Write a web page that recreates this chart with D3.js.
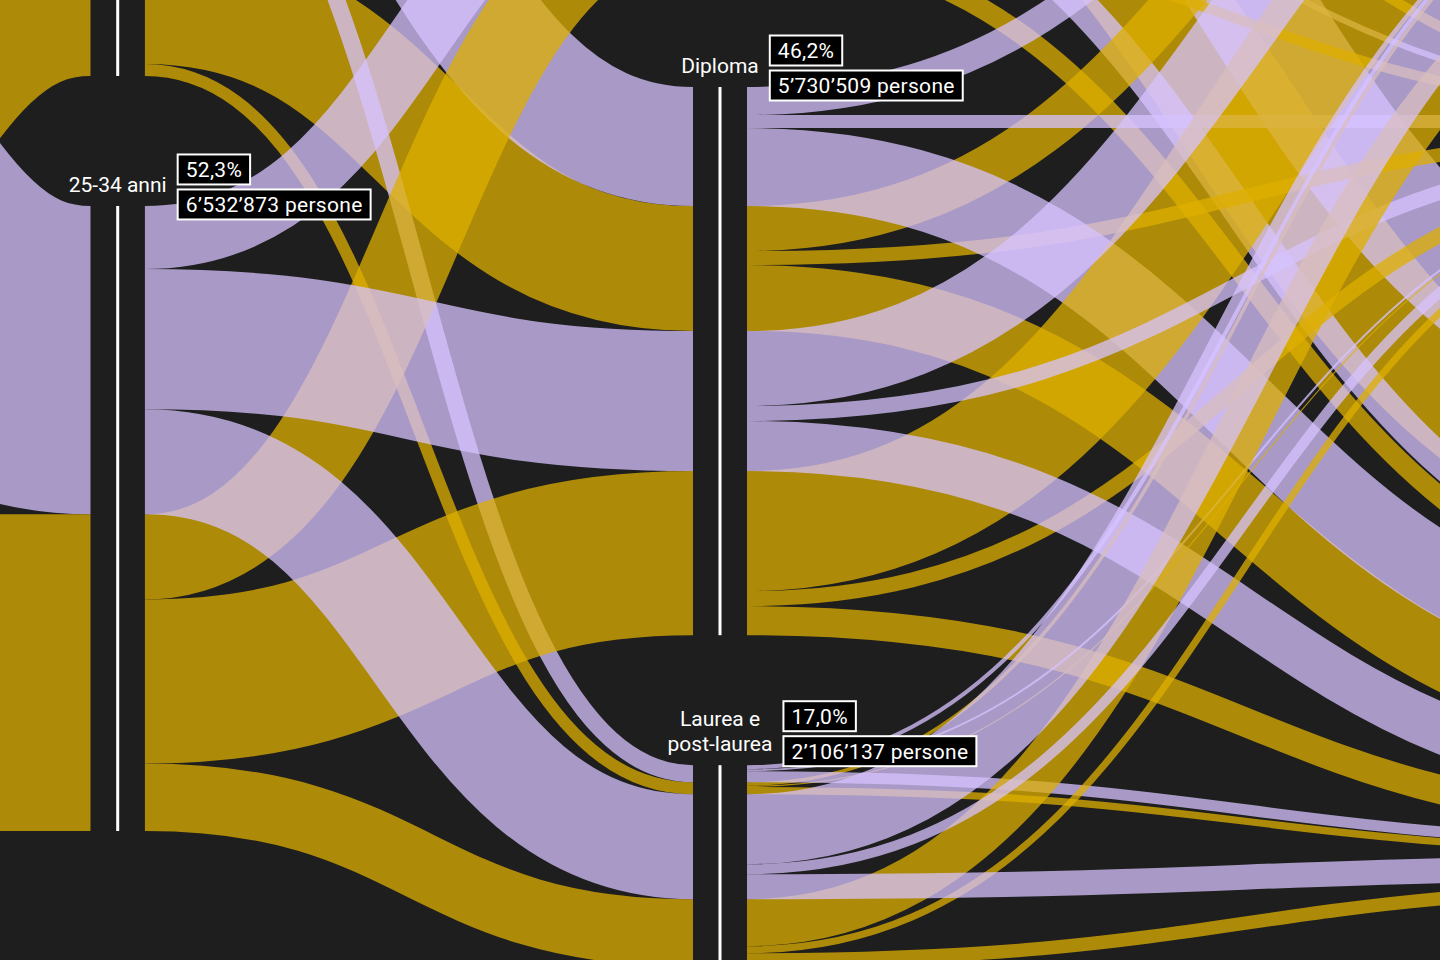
<!DOCTYPE html>
<html><head><meta charset="utf-8">
<script src="https://cdn.jsdelivr.net/npm/d3@7"></script>
<style>
html,body{margin:0;padding:0;background:#1e1e1e;overflow:hidden}
svg{display:block}
text{font-family:Roboto,"Noto Sans",sans-serif}
</style></head><body>
<svg id="chart" width="1440" height="960"></svg>
<script>
// ---------------- DATA ----------------
const generi = ["Donne", "Uomini"];
const eta = ["15-24 anni", "25-34 anni"];
const titoli = ["Licenza media", "Diploma", "Laurea e post-laurea"];
const condizioni = ["Occupati", "Disoccupati", "Inattivi"];
// gruppi: [genere, età] -> Donne 15-24, Uomini 15-24, Donne 25-34, Uomini 25-34
const gruppi = [[0, 0], [1, 0], [0, 1], [1, 1]];
// migliaia di persone; righe = gruppi, colonne = condizioni (Occupati, Disoccupati, Inattivi)
const flussiLicenza = [[105, 52, 1202], [260, 105, 1297], [260, 63, 337], [575, 105, 210]];
const flussiDiploma = [[293, 136, 816], [470, 146, 689], [784, 157, 524], [1254, 157, 304]];
const flussiLaurea  = [[42, 21, 115], [37, 12, 76], [732, 105, 261], [491, 73, 141]];
// etichette visibili
const etichetteNodi = ["25-34 anni", "Diploma", "Laurea e post-laurea"];
const etichetteRighe = [["25-34 anni"], ["Diploma"], ["Laurea e", "post-laurea"]];
const etichettePct = ["52,3%", "46,2%", "17,0%"];
const etichettePersone = [6532873, 5730509, 2106137];

// ---------------- LAYOUT ----------------
const W = 1440, H = 960;
const colX = [-484.3, 117.7, 720, 1767];      // column centres
const colTop = [-486, -486, -480.3, -553.4];   // first node top per column
const barW = 54, gap = 130;
const coloriGenere = ["#d7c3ff", "#deaf00"];
const y = d3.scaleLinear().domain([0, 1000]).range([0, 95.67]);

const svg = d3.select("#chart");
svg.append("rect").attr("width", W).attr("height", H).attr("fill", "#1e1e1e");

const columns = [generi, eta, titoli, condizioni];
const nodes = [];
columns.forEach((names, c) => names.forEach((name, i) => nodes.push({name, col: c, idx: i, vin: 0, vout: 0})));
const node = (c, i) => nodes.find(n => n.col === c && n.idx === i);
const flussi = [flussiLicenza, flussiDiploma, flussiLaurea];

const links = [];
gruppi.forEach(([s, a], g) => {
  links.push({source: node(0, s), target: node(1, a), value: d3.sum(flussi, f => d3.sum(f[g])), genere: s, k: 0});
});
gruppi.forEach(([s, a], g) => {
  flussi.forEach((f, t) => links.push({source: node(1, a), target: node(2, t), value: d3.sum(f[g]), genere: s, k: t}));
});
flussi.forEach((f, t) => gruppi.forEach(([s, a], g) => f[g].forEach((v, k) =>
  links.push({source: node(2, t), target: node(3, k), value: v, genere: s, eta: a, k}))));

links.forEach(l => { l.source.vout += l.value; l.target.vin += l.value; });
nodes.forEach(n => n.value = Math.max(n.vin, n.vout));
columns.forEach((names, c) => {
  let yy = colTop[c];
  nodes.filter(n => n.col === c).forEach(n => { n.y0 = yy; n.y1 = yy + y(n.value); yy = n.y1 + gap; });
});
nodes.forEach(n => { n.outY = n.y0; n.inY = n.y0; });
links.forEach(l => {
  l.w = y(l.value);
  l.sy = l.source.outY + l.w / 2; l.source.outY += l.w;
  l.ty = l.target.inY + l.w / 2; l.target.inY += l.w;
});

// drawing order: by column, source node, age group, men before women, target
const drawOrder = links.slice().sort((a, b) =>
  d3.ascending(a.source.col, b.source.col) ||
  d3.ascending(a.source.idx, b.source.idx) ||
  d3.ascending(a.eta || 0, b.eta || 0) ||
  d3.descending(a.genere, b.genere) ||
  d3.ascending(a.k, b.k));

const linkGen = d3.linkHorizontal()
  .source(l => [colX[l.source.col] + barW / 2, l.sy])
  .target(l => [colX[l.target.col] - barW / 2, l.ty]);

svg.append("g").selectAll("path").data(drawOrder).join("path")
  .attr("d", linkGen)
  .attr("fill", "none")
  .attr("stroke", l => coloriGenere[l.genere])
  .attr("stroke-opacity", 0.75)
  .attr("stroke-width", l => l.w);

const gn = svg.append("g");
gn.selectAll("rect.bar").data(nodes).join("rect").attr("class", "bar")
  .attr("x", n => colX[n.col] - barW / 2).attr("y", n => n.y0)
  .attr("width", barW).attr("height", n => n.y1 - n.y0).attr("fill", "#1e1e1e");
gn.selectAll("rect.line").data(nodes).join("rect").attr("class", "line")
  .attr("x", n => colX[n.col] - 1.5).attr("y", n => n.y0)
  .attr("width", 3).attr("height", n => n.y1 - n.y0).attr("fill", "#fff");

// ---------------- LABELS ----------------
const fmt = d3.formatLocale({decimal: ",", thousands: "’", grouping: [3], currency: ["", ""]}).format(",d");
const gl = svg.append("g");
etichetteNodi.forEach((name, i) => {
  const n = nodes.find(d => d.name === name);
  const cx = colX[n.col];
  const righe = etichetteRighe[i];
  const lastBase = n.y0 - 14;
  let maxW = 0;
  righe.forEach((r, j) => {
    const t = gl.append("text").attr("x", cx).attr("y", lastBase - (righe.length - 1 - j) * 25)
      .attr("text-anchor", "middle").attr("fill", "#fff").attr("font-size", 21).text(r);
    maxW = Math.max(maxW, t.node().getComputedTextLength());
  });
  const firstBase = lastBase - (righe.length - 1) * 25;
  const mid = (firstBase - 15 + lastBase) / 2;
  const bx = cx + maxW / 2 + 11;
  [etichettePct[i], fmt(etichettePersone[i]) + " persone"].forEach((txt, j) => {
    const by = mid - 30 + j * 35;
    const g = gl.append("g");
    const r = g.append("rect").attr("x", bx).attr("y", by).attr("height", 30)
      .attr("fill", "#000").attr("stroke", "#fff").attr("stroke-width", 2);
    const t = g.append("text").attr("x", bx + 8).attr("y", by + 15).attr("dy", "0.36em")
      .attr("fill", "#fff").attr("font-size", 21).attr("letter-spacing", 0.3).text(txt);
    r.attr("width", t.node().getComputedTextLength() + 16);
  });
});
</script>
</body></html>
